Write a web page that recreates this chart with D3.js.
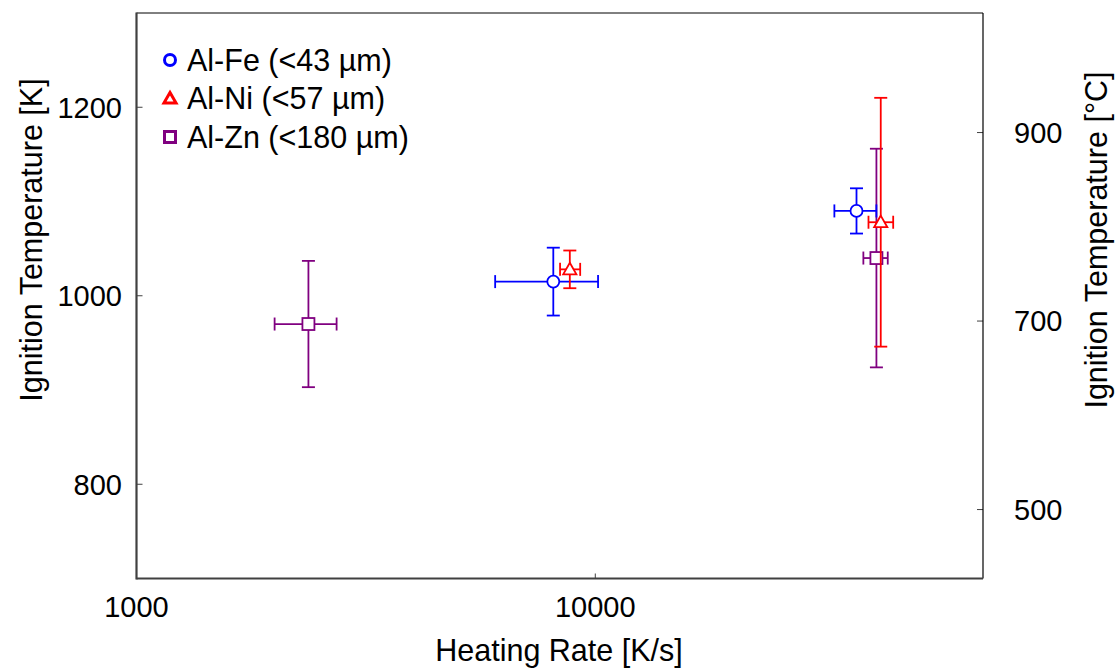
<!DOCTYPE html>
<html>
  <head>
    <meta charset="utf-8" />
    <title>ignition temperature vs heating rate</title>
    <script src="https://d3js.org/d3.v7.min.js"></script>
    <style>
      body { margin: 0; background: #fff; }
      svg text { font-family: "Liberation Sans", Arial, sans-serif; fill: #000; }
    </style>
  </head>
  <body>
    <script>
      // series labels / colours
      const labels = ["Al-Fe (<43 µm)", "Al-Ni (<57 µm)", "Al-Zn (<180 µm)"];
      const colors = ["#0000ff", "#ff0000", "#800080"];
      const shapes = ["circle", "triangle", "square"];

      // heating rate [K/s] with x error range, ignition temp [K] with +/- error
      const feRate = [8100, 37100];
      const feRateLo = [6050, 33200];
      const feRateHi = [10140, 41000];
      const feTemp = [1015, 1090];
      const feErr = [36, 24];

      const niRate = [8800, 41900];
      const niRateLo = [8380, 39400];
      const niRateHi = [9270, 44600];
      const niTemp = [1028, 1078];
      const niErr = [20, 132];

      const znRate = [2370, 41000];
      const znRateLo = [2000, 38400];
      const znRateHi = [2730, 43400];
      const znTemp = [970, 1040];
      const znErr = [67, 116];

      const xTicks = [1000, 10000];
      const yTicksK = [800, 1000, 1200];
      const yTicksC = [500, 700, 900];

      const width = 1115, height = 668;
      const pLeft = 136.5, pRight = 983, pTop = 13, pBottom = 578.5;
      const tickFont = 29, titleFont = 30.5;

      const svg = d3.select("body").append("svg")
        .attr("width", width).attr("height", height);

      const x = d3.scaleLog().domain([1000, 70000]).range([pLeft, pRight]);
      const y = d3.scaleLinear().domain([700, 1300]).range([pBottom, pTop]);
      // Celsius axis shares the same pixel mapping
      const yC = d3.scaleLinear().domain([700 - 273.15, 1300 - 273.15]).range([pBottom, pTop]);

      // ticks (inward, short)
      const g = svg.append("g");
      g.selectAll(".yt").data(yTicksK).enter().append("line")
        .attr("x1", pLeft).attr("x2", pLeft + 6)
        .attr("y1", d => y(d)).attr("y2", d => y(d))
        .attr("stroke", "#404040").attr("stroke-width", 1);
      g.selectAll(".ytl").data(yTicksK).enter().append("text")
        .attr("x", 122).attr("y", d => y(d))
        .attr("dy", "0.36em").attr("text-anchor", "end")
        .attr("font-size", tickFont).text(d => d);

      g.selectAll(".yc").data(yTicksC).enter().append("line")
        .attr("x1", pRight - 6).attr("x2", pRight)
        .attr("y1", d => yC(d)).attr("y2", d => yC(d))
        .attr("stroke", "#404040").attr("stroke-width", 1);
      g.selectAll(".ycl").data(yTicksC).enter().append("text")
        .attr("x", 1014).attr("y", d => yC(d))
        .attr("dy", "0.36em").attr("text-anchor", "start")
        .attr("font-size", tickFont).text(d => d);

      g.selectAll(".xt").data(xTicks).enter().append("line")
        .attr("x1", d => x(d)).attr("x2", d => x(d))
        .attr("y1", pBottom).attr("y2", pBottom - 5)
        .attr("stroke", "#404040").attr("stroke-width", 1);
      g.selectAll(".xtl").data(xTicks).enter().append("text")
        .attr("x", d => x(d)).attr("y", 607)
        .attr("dy", "0.36em").attr("text-anchor", "middle")
        .attr("font-size", tickFont).text(d => d);

      // frame: thin top/right, heavier left/bottom
      svg.append("line").attr("x1", pLeft).attr("x2", pRight).attr("y1", pTop).attr("y2", pTop)
        .attr("stroke", "#000").attr("stroke-width", 1);
      svg.append("line").attr("x1", pRight).attr("x2", pRight).attr("y1", pTop).attr("y2", pBottom)
        .attr("stroke", "#000").attr("stroke-width", 1.2);
      svg.append("line").attr("x1", pLeft).attr("x2", pLeft).attr("y1", pTop - 0.5).attr("y2", pBottom + 1)
        .attr("stroke", "#404040").attr("stroke-width", 2.2);
      svg.append("line").attr("x1", pLeft).attr("x2", pRight).attr("y1", pBottom).attr("y2", pBottom)
        .attr("stroke", "#404040").attr("stroke-width", 2.2);

      // axis titles
      svg.append("text").attr("x", 559).attr("y", 661)
        .attr("text-anchor", "middle").attr("font-size", titleFont).text("Heating Rate [K/s]");
      svg.append("text").attr("transform", "translate(31,240) rotate(-90)")
        .attr("dy", "0.36em").attr("text-anchor", "middle").attr("font-size", titleFont)
        .text("Ignition Temperature [K]");
      svg.append("text").attr("transform", "translate(1096,240) rotate(-90)")
        .attr("dy", "0.36em").attr("text-anchor", "middle").attr("font-size", titleFont)
        .text("Ignition Temperature [°C]");

      function rows(rate, lo, hi, temp, err) {
        return rate.map((r, i) => ({ r: r, lo: lo[i], hi: hi[i], t: temp[i], e: err[i] }));
      }
      const data = [
        rows(feRate, feRateLo, feRateHi, feTemp, feErr),
        rows(niRate, niRateLo, niRateHi, niTemp, niErr),
        rows(znRate, znRateLo, znRateHi, znTemp, znErr)
      ];

      const cap = 6.5;
      function marker(sel, shape, color, size, sw) {
        if (shape === "circle") {
          sel.append("circle").attr("r", size).attr("fill", "#fff")
            .attr("stroke", color).attr("stroke-width", sw);
        } else if (shape === "triangle") {
          const s = size * 1.1;
          sel.append("path")
            .attr("d", `M0,${-s}L${s},${s * 0.75}L${-s},${s * 0.75}Z`)
            .attr("fill", "#fff").attr("stroke", color).attr("stroke-width", sw);
        } else {
          sel.append("rect").attr("x", -size).attr("y", -size)
            .attr("width", size * 2).attr("height", size * 2)
            .attr("fill", "#fff").attr("stroke", color).attr("stroke-width", sw);
        }
      }

      // draw Zn first, then Fe, then Ni (Ni on top as in the figure)
      [2, 0, 1].forEach(si => {
        const col = colors[si];
        const grp = svg.append("g");
        data[si].forEach(d => {
          const cx = x(d.r), cy = y(d.t);
          const p = grp.append("g").attr("stroke", col).attr("stroke-width", 1.8);
          // vertical bar
          p.append("line").attr("x1", cx).attr("x2", cx).attr("y1", y(d.t + d.e)).attr("y2", y(d.t - d.e));
          p.append("line").attr("x1", cx - cap).attr("x2", cx + cap).attr("y1", y(d.t + d.e)).attr("y2", y(d.t + d.e));
          p.append("line").attr("x1", cx - cap).attr("x2", cx + cap).attr("y1", y(d.t - d.e)).attr("y2", y(d.t - d.e));
          // horizontal bar
          p.append("line").attr("x1", x(d.lo)).attr("x2", x(d.hi)).attr("y1", cy).attr("y2", cy);
          p.append("line").attr("x1", x(d.lo)).attr("x2", x(d.lo)).attr("y1", cy - cap).attr("y2", cy + cap);
          p.append("line").attr("x1", x(d.hi)).attr("x2", x(d.hi)).attr("y1", cy - cap).attr("y2", cy + cap);
          const m = grp.append("g").attr("transform", `translate(${cx},${cy})`);
          marker(m, shapes[si], col, 6, 1.8);
        });
      });

      // legend
      const leg = svg.append("g");
      labels.forEach((lab, i) => {
        const ly = 60 + i * 38.5;
        const m = leg.append("g").attr("transform", `translate(170,${ly})`);
        marker(m, shapes[i], colors[i], 5.5, 3);
        leg.append("text").attr("x", 187).attr("y", ly).attr("dy", "0.36em")
          .attr("font-size", titleFont).text(lab);
      });
    </script>
  </body>
</html>
